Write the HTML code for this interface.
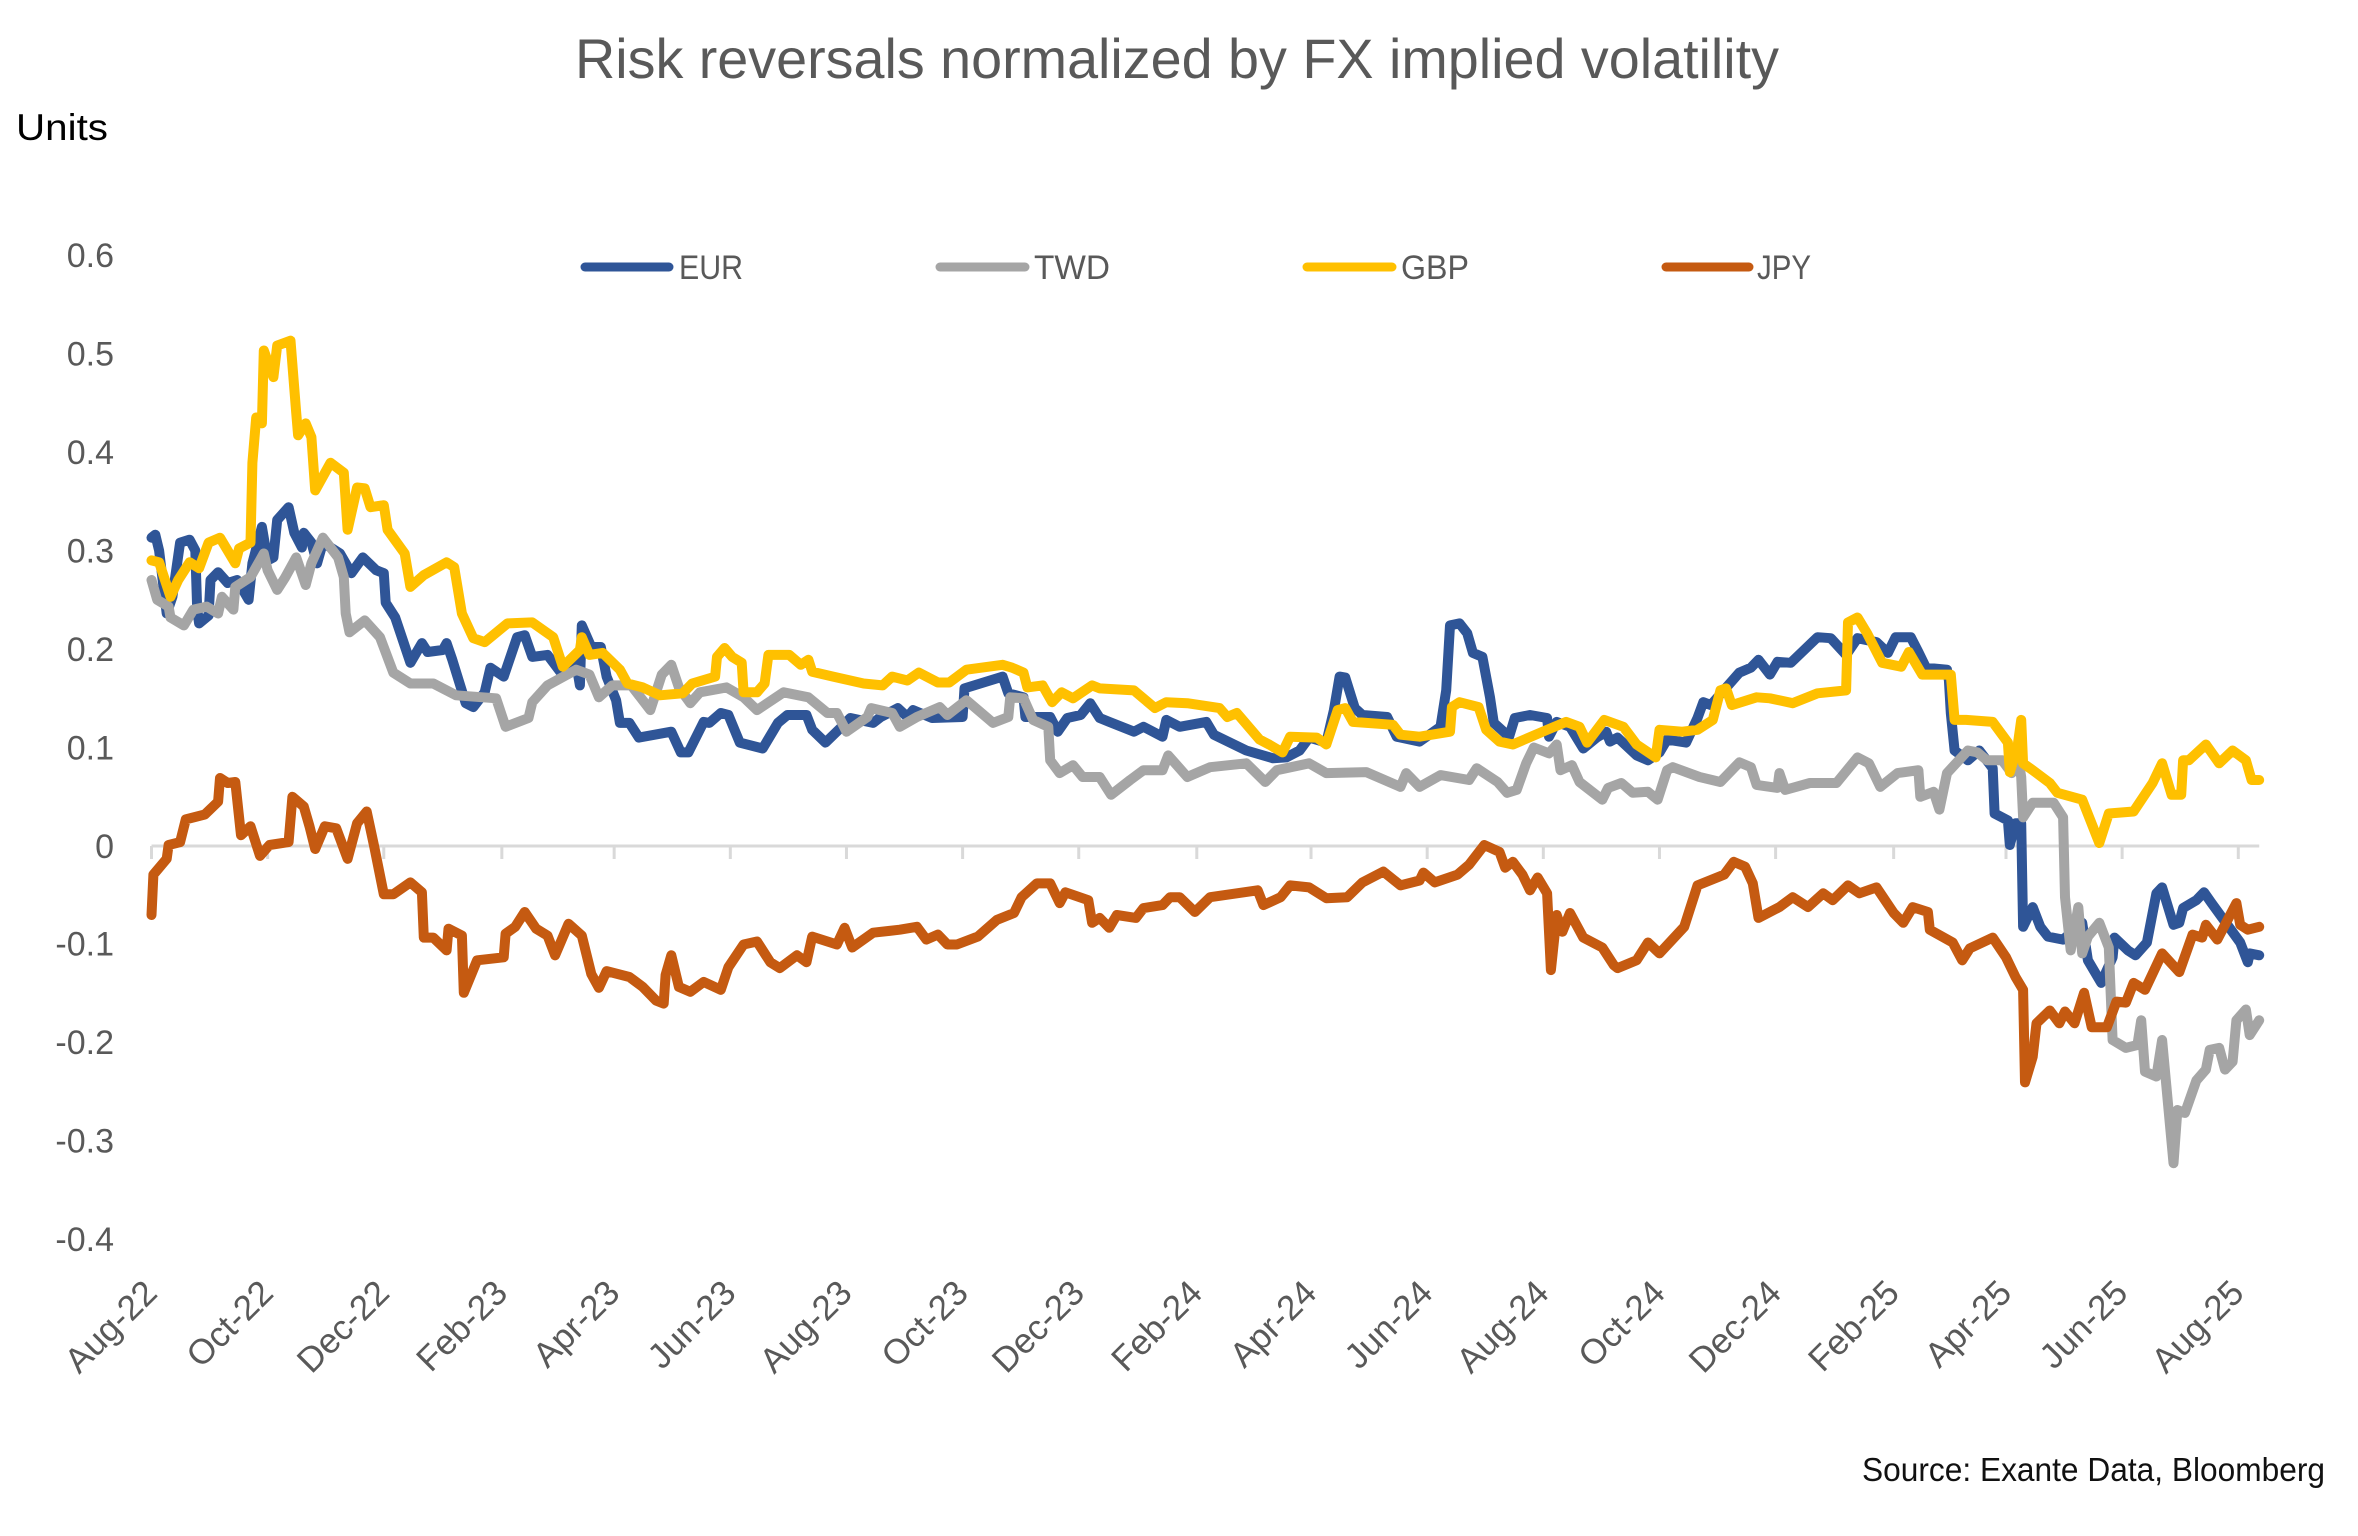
<!DOCTYPE html>
<html lang="en">
<head>
<meta charset="utf-8">
<title>Risk reversals normalized by FX implied volatility</title>
<style>
html,body{margin:0;padding:0;background:#fff;}
#chart-wrap{width:2358px;height:1536px;overflow:hidden;}
svg{display:block;font-family:"Liberation Sans",sans-serif;}
</style>
</head>
<body>
<div id="chart-wrap">
<svg id="chart" width="2358" height="1536" viewBox="0 0 2358 1536" xmlns="http://www.w3.org/2000/svg">
  <rect x="0" y="0" width="2358" height="1536" fill="#ffffff"/>
  <text x="575" y="78" font-size="56" fill="#595959" textLength="1204" lengthAdjust="spacingAndGlyphs">Risk reversals normalized by FX implied volatility</text>
  <text x="16" y="140" font-size="37" fill="#000000" textLength="92" lengthAdjust="spacingAndGlyphs">Units</text>
  <text x="1862" y="1481" font-size="33" fill="#111111" textLength="463" lengthAdjust="spacingAndGlyphs">Source: Exante Data, Bloomberg</text>
  <g id="y-axis"></g>
  <g id="x-axis"></g>
  <g id="series"></g>
  <g id="legend">
    <g>
      <line x1="585" y1="267" x2="669" y2="267" stroke="#2F5597" stroke-width="9" stroke-linecap="round"/>
      <text x="679" y="279" font-size="34" fill="#595959" textLength="64" lengthAdjust="spacingAndGlyphs">EUR</text>
    </g>
    <g>
      <line x1="940" y1="267" x2="1025" y2="267" stroke="#A5A5A5" stroke-width="9" stroke-linecap="round"/>
      <text x="1034" y="279" font-size="34" fill="#595959" textLength="76" lengthAdjust="spacingAndGlyphs">TWD</text>
    </g>
    <g>
      <line x1="1307" y1="267" x2="1392" y2="267" stroke="#FFC000" stroke-width="9" stroke-linecap="round"/>
      <text x="1401" y="279" font-size="34" fill="#595959" textLength="68" lengthAdjust="spacingAndGlyphs">GBP</text>
    </g>
    <g>
      <line x1="1666" y1="267" x2="1749" y2="267" stroke="#C55A11" stroke-width="9" stroke-linecap="round"/>
      <text x="1757" y="279" font-size="34" fill="#595959" textLength="54" lengthAdjust="spacingAndGlyphs">JPY</text>
    </g>
  </g>
</svg>
</div>
<script>
var yTickValues = [0.6, 0.5, 0.4, 0.3, 0.2, 0.1, 0, -0.1, -0.2, -0.3, -0.4];
var xTickLabels = ["Aug-22","Oct-22","Dec-22","Feb-23","Apr-23","Jun-23","Aug-23","Oct-23","Dec-23","Feb-24","Apr-24","Jun-24","Aug-24","Oct-24","Dec-24","Feb-25","Apr-25","Jun-25","Aug-25"];

/* x values: days since 1 Aug 2022; y values: units */
var eurDays = [0,2,4,8,11,15,20,23,24,25,30,31,35,40,45,51,53,58,61,64,66,72,75,79,80,84,87,90,99,105,111,118,122,123,128,132,136,142,145,153,155,158,165,169,175,178,185,192,196,200,208,215,223,225,226,231,236,239,244,246,251,256,273,278,282,290,293,299,303,309,321,329,334,344,347,354,362,367,379,383,392,397,400,410,426,427,437,447,450,458,459,472,476,481,488,493,498,503,516,521,531,533,540,554,558,575,589,596,603,608,617,621,624,627,632,636,649,654,666,677,680,682,687,691,694,699,703,705,713,716,724,733,734,738,745,752,759,764,766,770,780,786,792,796,806,812,815,819,834,840,844,850,854,861,875,882,890,896,906,912,916,924,928,932,943,944,945,947,954,960,967,968,975,976,979,982,983,988,992,996,1004,1014,1017,1024,1030,1031,1038,1042,1048,1053,1056,1062,1065,1067,1074,1078,1082,1091,1097,1101,1102,1107];
var eurValues = [.313,.316,.300,.236,.253,.308,.311,.300,.240,.226,.234,.270,.278,.267,.270,.250,.287,.324,.290,.293,.331,.344,.318,.303,.318,.308,.287,.308,.297,.277,.293,.280,.277,.247,.232,.209,.186,.206,.197,.199,.206,.189,.145,.141,.156,.181,.172,.212,.214,.192,.194,.176,.186,.163,.224,.202,.202,.172,.148,.125,.125,.110,.116,.095,.095,.126,.125,.135,.133,.105,.099,.125,.133,.133,.118,.105,.120,.130,.125,.131,.140,.131,.138,.130,.131,.160,.166,.172,.155,.151,.131,.131,.116,.130,.133,.145,.130,.126,.116,.121,.111,.128,.121,.126,.113,.097,.089,.090,.097,.110,.105,.138,.172,.171,.140,.133,.131,.111,.106,.121,.158,.224,.226,.216,.196,.192,.151,.125,.111,.130,.133,.130,.111,.126,.121,.099,.110,.116,.106,.110,.092,.087,.095,.108,.105,.130,.146,.143,.176,.181,.189,.174,.187,.186,.212,.211,.194,.211,.207,.196,.212,.212,.197,.181,.179,.168,.135,.097,.087,.097,.079,.033,.026,.001,.023,.023,-.082,-.062,-.082,-.092,-.095,-.078,-.116,-.139,-.113,-.093,-.106,-.111,-.098,-.048,-.042,-.080,-.078,-.063,-.055,-.047,-.058,-.082,-.098,-.118,-.109,-.111];

var twdDays = [0,3,9,10,17,22,29,35,37,43,44,52,59,61,66,70,76,81,84,90,98,101,102,104,112,120,127,136,148,160,181,186,198,200,208,223,230,235,242,252,262,268,273,277,283,288,302,311,318,332,345,355,360,365,376,378,389,393,402,414,418,428,442,450,451,458,463,471,472,477,484,489,498,504,514,521,531,534,544,556,575,585,591,608,617,638,656,659,666,677,692,696,707,712,717,722,726,734,738,740,746,750,762,765,772,778,786,791,796,799,813,824,834,840,843,854,855,858,871,885,896,902,908,917,928,929,936,939,943,954,959,964,972,977,980,982,983,988,999,1004,1005,1008,1012,1014,1017,1023,1028,1030,1037,1043,1045,1047,1053,1056,1062,1064,1068,1074,1079,1081,1086,1089,1093,1095,1100,1102,1107];
var twdValues = [.270,.250,.243,.232,.224,.240,.243,.236,.253,.240,.263,.273,.297,.280,.260,.272,.293,.265,.287,.313,.293,.273,.236,.217,.229,.212,.176,.165,.165,.153,.150,.121,.130,.146,.163,.179,.174,.151,.163,.163,.138,.174,.184,.161,.145,.156,.161,.151,.138,.156,.151,.135,.135,.116,.131,.140,.135,.121,.131,.141,.133,.148,.125,.131,.151,.150,.128,.121,.087,.074,.082,.070,.070,.052,.067,.077,.077,.092,.070,.080,.084,.065,.077,.084,.074,.075,.060,.074,.060,.072,.067,.079,.065,.054,.057,.084,.100,.094,.103,.077,.082,.065,.047,.059,.064,.054,.055,.047,.077,.080,.070,.065,.085,.080,.062,.059,.074,.057,.064,.064,.090,.084,.060,.074,.077,.050,.055,.037,.074,.097,.095,.087,.087,.074,.095,.070,.029,.044,.044,.029,-.052,-.106,-.062,-.109,-.092,-.078,-.103,-.197,-.205,-.202,-.177,-.229,-.234,-.197,-.322,-.268,-.271,-.238,-.227,-.207,-.205,-.227,-.219,-.177,-.166,-.192,-.177];

var gbpDays = [0,4,10,14,20,25,30,36,44,46,52,53,55,58,59,64,66,73,76,77,81,84,86,94,101,103,108,112,115,122,124,133,136,143,155,159,163,169,175,187,200,211,216,225,226,230,237,246,250,258,267,279,284,296,297,301,305,310,311,318,322,324,335,341,345,347,358,374,384,389,397,403,413,419,428,447,452,458,460,468,473,478,484,494,498,516,527,533,544,561,565,570,582,587,594,598,612,617,623,627,631,652,656,666,682,683,687,697,701,708,715,733,743,750,754,763,773,780,790,792,804,812,820,824,827,830,843,850,862,875,890,891,896,901,909,919,923,930,945,947,953,967,975,976,980,982,983,988,997,1001,1014,1023,1028,1041,1051,1056,1061,1066,1067,1070,1079,1086,1093,1100,1103,1107];
var gbpValues = [.290,.288,.253,.270,.288,.282,.308,.313,.287,.302,.308,.389,.435,.429,.503,.476,.508,.513,.440,.417,.429,.415,.361,.389,.379,.321,.364,.363,.344,.346,.321,.297,.263,.275,.288,.283,.236,.211,.207,.226,.227,.212,.182,.199,.212,.194,.196,.179,.165,.161,.153,.155,.165,.172,.192,.201,.192,.186,.156,.156,.165,.194,.194,.184,.189,.177,.172,.165,.163,.172,.168,.176,.166,.166,.179,.184,.181,.176,.161,.163,.146,.156,.150,.163,.160,.158,.140,.146,.145,.140,.131,.135,.108,.103,.095,.111,.110,.103,.138,.140,.126,.123,.113,.111,.116,.141,.146,.141,.118,.106,.103,.118,.126,.121,.105,.128,.121,.103,.090,.118,.116,.118,.128,.158,.160,.143,.151,.150,.145,.155,.158,.227,.232,.216,.186,.182,.197,.174,.174,.128,.128,.126,.105,.075,.100,.128,.084,.077,.064,.054,.047,.003,.033,.035,.064,.084,.052,.052,.087,.087,.103,.084,.097,.087,.067,.067];

var jpyDays = [0,1,8,9,15,18,28,35,36,40,44,47,52,57,62,72,74,80,83,86,91,97,103,108,113,117,122,127,136,142,143,148,155,156,163,164,171,185,186,191,196,202,208,212,219,226,231,235,239,251,258,265,269,270,273,277,283,290,299,303,311,318,325,330,339,344,347,360,364,368,379,393,402,407,413,418,423,434,444,453,457,465,472,477,480,492,494,498,503,507,517,521,531,535,540,548,556,581,584,593,598,608,617,628,636,647,656,666,668,674,686,692,700,708,711,715,720,724,728,733,735,738,741,745,752,762,768,770,780,786,792,805,812,826,831,837,841,844,855,862,870,878,883,891,897,906,915,920,925,933,934,946,951,955,967,974,979,983,984,988,990,997,1002,1005,1010,1015,1019,1027,1032,1037,1041,1047,1056,1065,1072,1077,1079,1085,1095,1097,1101,1107];
var jpyValues = [-.070,-.029,-.013,.001,.004,.027,.032,.045,.069,.064,.065,.011,.020,-.010,.001,.004,.050,.040,.020,-.003,.020,.018,-.013,.023,.035,-.001,-.049,-.049,-.037,-.047,-.093,-.093,-.106,-.084,-.091,-.149,-.116,-.113,-.089,-.082,-.067,-.084,-.091,-.111,-.079,-.091,-.130,-.144,-.127,-.133,-.143,-.157,-.160,-.131,-.111,-.143,-.148,-.138,-.146,-.123,-.100,-.097,-.118,-.124,-.111,-.118,-.092,-.100,-.083,-.103,-.088,-.085,-.082,-.095,-.090,-.100,-.100,-.092,-.075,-.068,-.052,-.038,-.038,-.058,-.047,-.055,-.078,-.073,-.083,-.070,-.073,-.063,-.060,-.052,-.052,-.067,-.052,-.045,-.060,-.052,-.040,-.042,-.053,-.052,-.037,-.026,-.040,-.035,-.027,-.037,-.029,-.019,.001,-.006,-.022,-.016,-.029,-.045,-.032,-.048,-.126,-.070,-.087,-.068,-.093,-.103,-.121,-.124,-.116,-.098,-.109,-.082,-.040,-.029,-.016,-.021,-.038,-.073,-.062,-.052,-.062,-.048,-.055,-.040,-.048,-.042,-.068,-.078,-.062,-.067,-.085,-.098,-.116,-.104,-.093,-.113,-.133,-.146,-.240,-.214,-.180,-.167,-.180,-.168,-.180,-.149,-.184,-.184,-.158,-.159,-.139,-.146,-.109,-.128,-.090,-.093,-.080,-.095,-.058,-.080,-.085,-.082];

var lastDay = 1107;

var SVG_NS = "http://www.w3.org/2000/svg";
function xScale(day) { return 151.5 + 1.904 * day; }
function yScale(value) { return 846 - 985 * value; }
function tickDay(label) {
  var months = ["Jan","Feb","Mar","Apr","May","Jun","Jul","Aug","Sep","Oct","Nov","Dec"];
  var parts = label.split("-");
  var t = Date.UTC(2000 + parseInt(parts[1], 10), months.indexOf(parts[0]), 1);
  return (t - Date.UTC(2022, 7, 1)) / 86400000;
}

var yAxisGroup = document.getElementById("y-axis");
yTickValues.forEach(function (v) {
  var t = document.createElementNS(SVG_NS, "text");
  
  
  t.setAttribute("x", 114);
  t.setAttribute("y", yScale(v) + (v < 0 ? 11 : 12));
  t.setAttribute("text-anchor", "end");
  t.setAttribute("font-size", "34");
  t.setAttribute("fill", "#595959");
  t.textContent = String(v);
  yAxisGroup.appendChild(t);
});

var xAxisGroup = document.getElementById("x-axis");
var baseline = document.createElementNS(SVG_NS, "line");


baseline.setAttribute("x1", xScale(0));
baseline.setAttribute("x2", xScale(lastDay));
baseline.setAttribute("y1", yScale(0));
baseline.setAttribute("y2", yScale(0));
baseline.setAttribute("stroke", "#D9D9D9");
baseline.setAttribute("stroke-width", "3");
xAxisGroup.appendChild(baseline);

xTickLabels.forEach(function (label) {
  var x = xScale(tickDay(label));
  var tick = document.createElementNS(SVG_NS, "line");
  
  
  tick.setAttribute("x1", x);
  tick.setAttribute("x2", x);
  tick.setAttribute("y1", yScale(0));
  tick.setAttribute("y2", yScale(0) + 13);
  tick.setAttribute("stroke", "#D9D9D9");
  tick.setAttribute("stroke-width", "3");
  xAxisGroup.appendChild(tick);

  var t = document.createElementNS(SVG_NS, "text");
  
  
  t.setAttribute("transform", "translate(" + (x + 7.5) + ",1295) rotate(-45)");
  t.setAttribute("text-anchor", "end");
  t.setAttribute("font-size", "35");
  t.setAttribute("fill", "#595959");
  t.textContent = label;
  xAxisGroup.appendChild(t);
});

function drawSeries(name, days, values, color) {
  var pts = days.map(function (d, i) {
    return xScale(d).toFixed(1) + "," + yScale(values[i]).toFixed(1);
  }).join(" ");
  var line = document.createElementNS(SVG_NS, "polyline");
  
  
  line.setAttribute("points", pts);
  line.setAttribute("fill", "none");
  line.setAttribute("stroke", color);
  line.setAttribute("stroke-width", "10");
  line.setAttribute("stroke-linejoin", "round");
  line.setAttribute("stroke-linecap", "round");
  document.getElementById("series").appendChild(line);
}
drawSeries("series-line-eur", eurDays, eurValues, "#2F5597");
drawSeries("series-line-twd", twdDays, twdValues, "#A5A5A5");
drawSeries("series-line-gbp", gbpDays, gbpValues, "#FFC000");
drawSeries("series-line-jpy", jpyDays, jpyValues, "#C55A11");
</script>
</body>
</html>
